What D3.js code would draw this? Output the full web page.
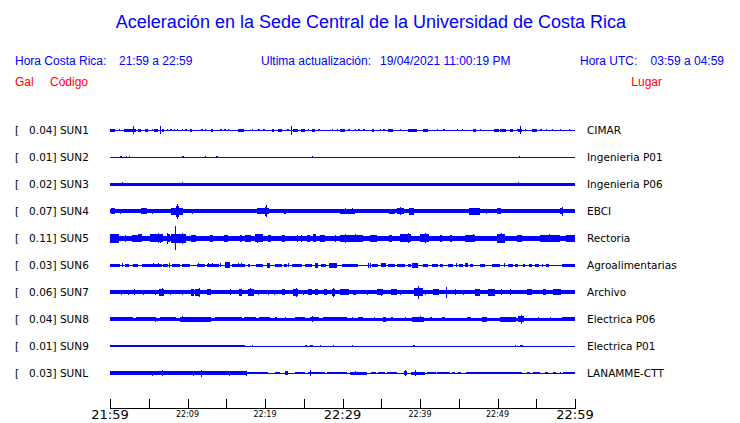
<!DOCTYPE html>
<html><head><meta charset="utf-8">
<script src="https://cdn.jsdelivr.net/npm/d3@7"></script>
<style>
body{margin:0;background:#fff;}
svg{display:block;}
.hdr{font-family:"Liberation Sans",Arial,sans-serif;}
.lbl{font-family:"DejaVu Sans",sans-serif;white-space:pre;}
</style></head><body>
<svg id="c" width="740" height="423"></svg>
<script>
// ---------- data ----------
const title = "Aceleración en la Sede Central de la Universidad de Costa Rica";
const stations = ["SUN1","SUN2","SUN3","SUN4","SUN5","SUN6","SUN7","SUN8","SUN9","SUNL"];
const places = ["CIMAR","Ingenieria P01","Ingenieria P06","EBCI","Rectoria","Agroalimentarias","Archivo","Electrica P06","Electrica P01","LANAMME-CTT"];
const maxGal = [0.04,0.01,0.02,0.07,0.11,0.03,0.06,0.04,0.01,0.03];
const startTime = "2021-04-19T21:59:00";
const endTime = "2021-04-19T22:59:00";
const tickLabels = ["21:59","","22:09","","22:19","","22:29","","22:39","","22:49","","22:59"];
const bigTickLabels = ["21:59","22:29","22:59"];

// baseline noise segments per station: [startMin, endMin, halfAmplitudeGal]
const base1 = [[0,60,0.0046]];
const base2 = [[0,60,0.0046]];
const base3 = [[0,29.7,0.014],[29.7,60,0.011]];
const base4 = [[0,60,0.017]];
const base5 = [[0,60,0.024]];
const base6 = [[0,60,0.0046]];
const base7 = [[0,60,0.017]];
const base8 = [[0,60,0.016]];
const base9 = [[0,17.4,0.009],[17.4,60,0.0046]];
const baseL = [[0,17.6,0.018],[17.6,60,0.0046]];

// bursts per station: [minute after 21:59, halfAmplitudeGal, durationMin]
const bursts1 = [[0,0.011,0.6],[1.15,0.009,0.2],[1.85,0.011,0.95],[2.8,0.012,0.5],[3.0,0.035,0.1],[3.65,0.011,0.35],[4.5,0.011,0.45],[5.4,0.009,0.2],[5.7,0.012,0.55],[6.45,0.038,0.1],[6.65,0.011,0.35],[7.3,0.009,0.2],[7.75,0.009,0.2],[8.2,0.009,0.2],[8.6,0.009,0.2],[9.25,0.009,0.2],[9.7,0.009,0.2],[10.3,0.011,0.25],[11.8,0.008,0.15],[12.25,0.008,0.15],[13.0,0.011,0.3],[14.2,0.009,0.2],[14.75,0.009,0.2],[15.2,0.009,0.2],[16.5,0.011,0.85],[18.3,0.009,0.2],[19.15,0.009,0.2],[19.8,0.009,0.2],[20.85,0.011,0.25],[21.7,0.011,0.45],[22.9,0.009,0.2],[23.3,0.04,0.1],[23.6,0.012,0.65],[24.7,0.011,0.45],[25.5,0.01,0.2],[26.0,0.011,0.45],[26.9,0.009,0.2],[27.7,0.007,0.15],[28.6,0.009,0.2],[29.25,0.009,0.2],[29.7,0.011,0.6],[30.75,0.009,0.2],[31.6,0.009,0.2],[32.05,0.009,0.2],[32.7,0.009,0.2],[33.75,0.011,0.25],[34.8,0.009,0.2],[35.25,0.009,0.2],[35.9,0.011,0.65],[37.4,0.009,0.2],[38.5,0.011,1.1],[40.4,0.011,0.65],[42.15,0.009,0.2],[43.0,0.009,0.2],[44.75,0.009,0.2],[45.4,0.009,0.2],[46.9,0.011,0.35],[47.7,0.009,0.2],[49.5,0.011,0.65],[50.3,0.012,0.85],[51.6,0.011,0.45],[52.5,0.009,0.2],[52.6,0.014,0.5],[52.9,0.035,0.1],[53.5,0.009,0.2],[54.4,0.011,0.65],[55.5,0.009,0.2],[56.2,0.009,0.2],[57.0,0.009,0.2],[58.0,0.009,0.2],[59.2,0.009,0.2]];
const bursts2 = [[1.35,0.01,0.25],[2.0,0.008,0.1],[2.4,0.008,0.15],[4.8,0.007,0.1],[7.0,0.007,0.1],[9.25,0.009,0.25],[10.1,0.007,0.1],[11.5,0.007,0.1],[12.2,0.008,0.1],[12.45,0.007,0.1],[13.65,0.009,0.3],[16.7,0.007,0.1],[17.4,0.007,0.1],[26.1,0.008,0.1],[52.8,0.008,0.1]];
const bursts3 = [[1.5,0.02,0.1],[9.25,0.02,0.1],[29.7,0.014,1.0],[31.2,0.014,2.0],[34.5,0.014,3.0],[38.0,0.014,1.8],[40.3,0.014,1.8],[42.5,0.014,1.5],[45.0,0.014,0.8],[46.5,0.014,1.2],[48.2,0.014,1.8],[50.8,0.014,0.6],[52.2,0.016,1.0],[52.6,0.02,0.1],[54.0,0.014,0.8],[55.5,0.014,1.2],[57.5,0.014,0.6],[58.5,0.014,1.4]];
const bursts4 = [[0.1,0.026,0.6],[1.3,0.022,0.1],[4.0,0.026,0.75],[5.4,0.022,0.2],[6.75,0.018,0.15],[7.9,0.03,1.5],[8.5,0.05,0.4],[8.7,0.07,0.1],[10.55,0.022,0.2],[11.3,0.018,0.1],[12.9,0.02,0.15],[13.35,0.02,0.1],[14.3,0.018,0.1],[15.5,0.018,0.1],[17.1,0.018,0.1],[18.3,0.018,0.1],[19.0,0.026,1.5],[20.0,0.04,0.3],[20.1,0.055,0.1],[22.45,0.022,0.2],[24.95,0.02,0.1],[27.1,0.018,0.1],[29.7,0.022,1.9],[30.3,0.026,0.1],[31.2,0.026,0.1],[35.2,0.02,0.2],[36.0,0.024,0.8],[37.0,0.026,0.9],[37.4,0.037,0.1],[38.6,0.03,0.6],[40.8,0.02,0.15],[44.5,0.018,0.1],[46.3,0.03,1.4],[47.5,0.033,0.1],[48.5,0.022,0.15],[49.9,0.026,0.5],[53.0,0.02,0.15],[54.4,0.018,0.1],[55.9,0.02,0.1],[58.0,0.026,0.35],[58.3,0.04,0.1]];
const bursts5 = [[0,0.04,1.1],[1.9,0.03,0.2],[2.8,0.033,0.9],[3.65,0.035,0.5],[5.2,0.035,1.7],[6.15,0.045,0.1],[6.45,0.04,0.1],[7.3,0.035,0.4],[7.4,0.05,0.1],[7.9,0.04,1.9],[8.45,0.11,0.1],[9.3,0.05,0.1],[10.5,0.03,0.6],[12.9,0.032,0.4],[14.7,0.032,0.5],[16.8,0.03,0.2],[17.4,0.03,0.8],[18.7,0.035,1.1],[19.0,0.042,0.1],[20.4,0.03,0.4],[22.2,0.03,0.4],[24.1,0.03,0.1],[24.7,0.033,0.1],[25.4,0.033,0.4],[26.2,0.035,0.4],[27.1,0.03,0.6],[29.0,0.03,0.1],[29.7,0.033,3.0],[30.3,0.04,0.1],[31.6,0.035,0.1],[33.5,0.03,1.0],[36.0,0.032,0.4],[37.4,0.035,1.5],[38.4,0.045,0.1],[40.0,0.035,1.1],[40.65,0.045,0.1],[42.6,0.03,0.2],[43.9,0.03,0.2],[45.8,0.03,1.3],[46.9,0.035,0.1],[49.9,0.04,1.1],[50.5,0.045,0.1],[52.5,0.03,0.6],[55.5,0.03,2.6],[56.6,0.035,0.1],[58.8,0.03,1.2]];
const bursts6 = [[0,0.013,1.3],[1.5,0.02,0.1],[1.95,0.013,0.45],[3.0,0.013,0.6],[4.1,0.013,0.65],[4.75,0.013,1.9],[5.6,0.02,0.1],[6.2,0.02,0.1],[6.9,0.013,0.6],[7.65,0.022,0.1],[7.95,0.013,1.1],[9.25,0.013,1.1],[11.2,0.013,1.1],[11.4,0.02,0.1],[12.5,0.013,1.5],[12.7,0.02,0.1],[13.2,0.02,0.1],[14.2,0.018,0.1],[14.9,0.028,0.6],[15.7,0.013,1.7],[16.5,0.02,0.1],[16.95,0.02,0.1],[17.85,0.013,0.2],[18.9,0.013,0.9],[20.2,0.022,0.4],[21.3,0.013,0.9],[22.4,0.013,0.4],[23.0,0.02,0.1],[23.45,0.013,1.3],[25.2,0.013,0.85],[26.45,0.022,0.4],[27.2,0.013,0.7],[28.3,0.022,1.0],[29.9,0.013,2.1],[33.3,0.022,0.1],[33.6,0.022,0.1],[33.8,0.013,0.8],[35.0,0.02,0.6],[35.9,0.013,0.9],[37.0,0.013,1.0],[38.5,0.013,0.4],[39.0,0.022,0.8],[40.4,0.013,0.65],[41.5,0.013,0.8],[42.6,0.013,0.4],[43.6,0.013,0.6],[44.65,0.02,0.1],[45.0,0.013,0.6],[45.8,0.02,0.4],[46.5,0.013,0.4],[47.75,0.013,0.6],[49.25,0.013,1.1],[50.8,0.02,0.1],[51.4,0.013,0.6],[52.3,0.013,0.4],[53.3,0.013,0.2],[54.0,0.013,0.4],[54.9,0.013,0.4],[55.7,0.013,0.2],[56.3,0.013,0.4],[58.3,0.013,1.7]];
const bursts7 = [[1.4,0.025,0.1],[2.35,0.024,0.1],[3.15,0.028,0.1],[4.3,0.025,0.1],[5.8,0.024,0.1],[6.3,0.03,0.7],[6.65,0.035,0.1],[7.75,0.025,0.1],[9.25,0.024,0.1],[10.45,0.03,0.45],[11.0,0.03,0.6],[11.5,0.04,0.1],[12.5,0.028,0.55],[15.5,0.028,0.1],[16.6,0.03,0.4],[17.8,0.03,0.75],[18.1,0.036,0.1],[19.15,0.025,0.1],[20.45,0.025,0.1],[21.1,0.025,0.1],[22.2,0.028,0.4],[23.65,0.03,0.55],[23.95,0.04,0.1],[24.95,0.025,0.1],[25.6,0.028,0.4],[26.45,0.028,0.4],[27.55,0.028,0.4],[28.6,0.03,0.4],[28.75,0.04,0.1],[29.9,0.028,0.4],[29.7,0.028,1.2],[31.4,0.025,0.3],[33.1,0.025,0.1],[34.4,0.028,0.8],[35.0,0.032,0.1],[36.2,0.028,0.8],[37.4,0.025,0.1],[39.2,0.035,1.2],[39.7,0.06,0.1],[40.6,0.025,0.1],[41.7,0.028,0.8],[43.3,0.04,0.2],[43.4,0.05,0.1],[44.5,0.028,0.1],[45.6,0.025,0.1],[47.1,0.03,0.6],[48.8,0.03,0.85],[50.5,0.028,0.1],[51.6,0.028,0.1],[53.8,0.028,0.6],[55.9,0.028,0.4],[57.2,0.028,1.0]];
const bursts8 = [[0,0.02,3.0],[3.3,0.02,2.5],[5.8,0.025,0.1],[6.5,0.02,2.0],[9.0,0.022,4.0],[9.25,0.028,0.1],[10.95,0.025,0.1],[13.5,0.02,3.5],[17.3,0.02,1.5],[19.2,0.02,1.5],[21.3,0.018,0.2],[22.6,0.018,0.1],[23.9,0.02,1.2],[25.8,0.02,1.2],[26.0,0.028,0.1],[27.5,0.02,2.5],[29.7,0.02,0.9],[31.2,0.02,0.2],[32.0,0.02,0.6],[34.0,0.02,0.2],[35.2,0.022,0.4],[36.3,0.02,0.2],[38.0,0.02,0.2],[39.0,0.022,1.5],[40.0,0.028,0.1],[41.3,0.02,0.2],[42.8,0.02,0.4],[46.0,0.02,0.6],[48.0,0.022,0.6],[50.3,0.022,2.1],[52.6,0.028,0.8],[53.0,0.04,0.1],[55.2,0.02,0.2],[56.8,0.018,0.1],[58.3,0.02,1.7]];
const bursts9 = [[18.3,0.008,0.1],[21.1,0.007,0.1],[25.2,0.008,0.2],[25.8,0.01,0.35],[27.1,0.008,0.1],[28.8,0.008,0.1],[31.2,0.008,0.1],[31.8,0.007,0.1],[35.2,0.007,0.1],[37.0,0.006,0.1],[38.0,0.007,0.1],[39.1,0.009,0.2],[47.3,0.007,0.1],[48.3,0.007,0.1],[51.6,0.007,0.1],[52.2,0.008,0.1],[52.9,0.01,0.35]];
const burstsL = [[5.4,0.024,0.1],[6.65,0.028,0.1],[10.75,0.024,0.1],[11.8,0.03,0.1],[15.3,0.025,0.1],[17.6,0.025,0.1],[17.6,0.011,2.8],[21.3,0.011,0.6],[22.6,0.018,0.4],[23.9,0.011,1.3],[25.6,0.011,2.1],[25.8,0.028,0.1],[28.0,0.011,2.2],[29.7,0.011,0.9],[31.0,0.013,2.1],[31.6,0.02,0.1],[33.7,0.011,0.6],[34.6,0.011,0.9],[35.7,0.011,1.3],[37.9,0.02,0.4],[38.0,0.028,0.1],[38.9,0.013,1.7],[39.3,0.028,0.1],[40.9,0.011,1.1],[42.2,0.011,1.7],[44.1,0.011,0.4],[44.9,0.011,0.4],[45.9,0.011,7.3],[53.8,0.011,0.4],[54.6,0.011,0.9],[56.1,0.011,0.4],[57.2,0.011,0.4],[58.0,0.011,0.2],[58.5,0.011,1.5]];

const baseList = [base1,base2,base3,base4,base5,base6,base7,base8,base9,baseL];
const burstList = [bursts1,bursts2,bursts3,bursts4,bursts5,bursts6,bursts7,bursts8,bursts9,burstsL];

// ---------- drawing ----------
const svg = d3.select("#c");
const blue = "#0000ff", red = "#ff0000";
const t0 = new Date(startTime), t1 = new Date(endTime);
const x = d3.scaleTime().domain([t0, t1]).range([110, 575]);
const xm = m => x(new Date(t0.getTime() + m * 60000));
const y = d3.scaleBand().domain(stations).range([116.8, 386.8]).paddingInner(0);
const amp = d3.scaleLinear().domain([0, 0.11]).range([0, 12]);

svg.append("text").attr("class","hdr").attr("x",371).attr("y",28).attr("text-anchor","middle")
  .attr("font-size",18).attr("fill",blue).text(title);

const hdr = [["Hora Costa Rica:",15,"start"],["21:59 a 22:59",119,"start"],
  ["Ultima actualización:",261,"start"],["19/04/2021 11:00:19 PM",380,"start"],
  ["Hora UTC:",580,"start"],["03:59 a 04:59",724,"end"]];
svg.selectAll("text.h2").data(hdr).join("text").attr("class","hdr h2")
  .attr("x",d=>d[1]).attr("y",65).attr("text-anchor",d=>d[2])
  .attr("font-size",12).attr("fill",blue).text(d=>d[0]);

const hdr3 = [["Gal",15,"start"],["Código",50,"start"],["Lugar",662,"end"]];
svg.selectAll("text.h3").data(hdr3).join("text").attr("class","hdr h3")
  .attr("x",d=>d[1]).attr("y",86).attr("text-anchor",d=>d[2])
  .attr("font-size",12).attr("fill",red).text(d=>d[0]);

const rows = svg.selectAll("g.row").data(stations).join("g").attr("class","row")
  .attr("transform", s => `translate(0,${y(s) + y.bandwidth()/2})`);

rows.append("text").attr("class","lbl").attr("x",15).attr("y",4).attr("font-size",10.5).attr("fill","#000")
  .text((s,i) => "[   " + maxGal[i].toFixed(2) + "] " + s);
rows.append("text").attr("class","lbl").attr("x",587).attr("y",4).attr("font-size",10.5).attr("fill","#000")
  .text((s,i) => places[i]);

rows.each(function(s, i) {
  const g = d3.select(this).append("g").attr("shape-rendering","crispEdges").attr("fill",blue);
  g.selectAll("rect.b").data(baseList[i]).join("rect").attr("class","b")
    .attr("x", d => xm(d[0])).attr("width", d => xm(d[1]) - xm(d[0]))
    .attr("y", d => -Math.max(0.5, amp(d[2]))).attr("height", d => Math.max(1, 2*amp(d[2])));
  g.selectAll("rect.s").data(burstList[i]).join("rect").attr("class","s")
    .attr("x", d => xm(d[0])).attr("width", d => Math.max(1, Math.min(xm(d[0]+d[2]), 575) - xm(d[0])))
    .attr("y", d => -amp(d[1])).attr("height", d => Math.max(1, 2*amp(d[1])));
});

// time axis
const axisY = 408;
const ax = svg.append("g").attr("shape-rendering","crispEdges");
ax.append("line").attr("x1",x.range()[0]).attr("x2",x.range()[1]+1).attr("y1",axisY+0.5).attr("y2",axisY+0.5).attr("stroke","#000");
const ticks = d3.range(tickLabels.length).map(i => new Date(t0.getTime() + i * 5 * 60000));
ax.selectAll("line.t").data(ticks).join("line").attr("class","t")
  .attr("x1",d=>Math.round(x(d))+0.5).attr("x2",d=>Math.round(x(d))+0.5)
  .attr("y1",axisY-9).attr("y2",axisY+0.5).attr("stroke","#000");
svg.selectAll("text.tl").data(ticks).join("text").attr("class","lbl tl")
  .attr("x",d=>x(d)).attr("text-anchor","middle")
  .attr("y",(d,i)=> bigTickLabels.includes(tickLabels[i]) ? 419 : 417)
  .attr("font-size",(d,i)=> bigTickLabels.includes(tickLabels[i]) ? 13 : 8)
  .attr("fill","#000").text((d,i)=>tickLabels[i]);
</script></body></html>
